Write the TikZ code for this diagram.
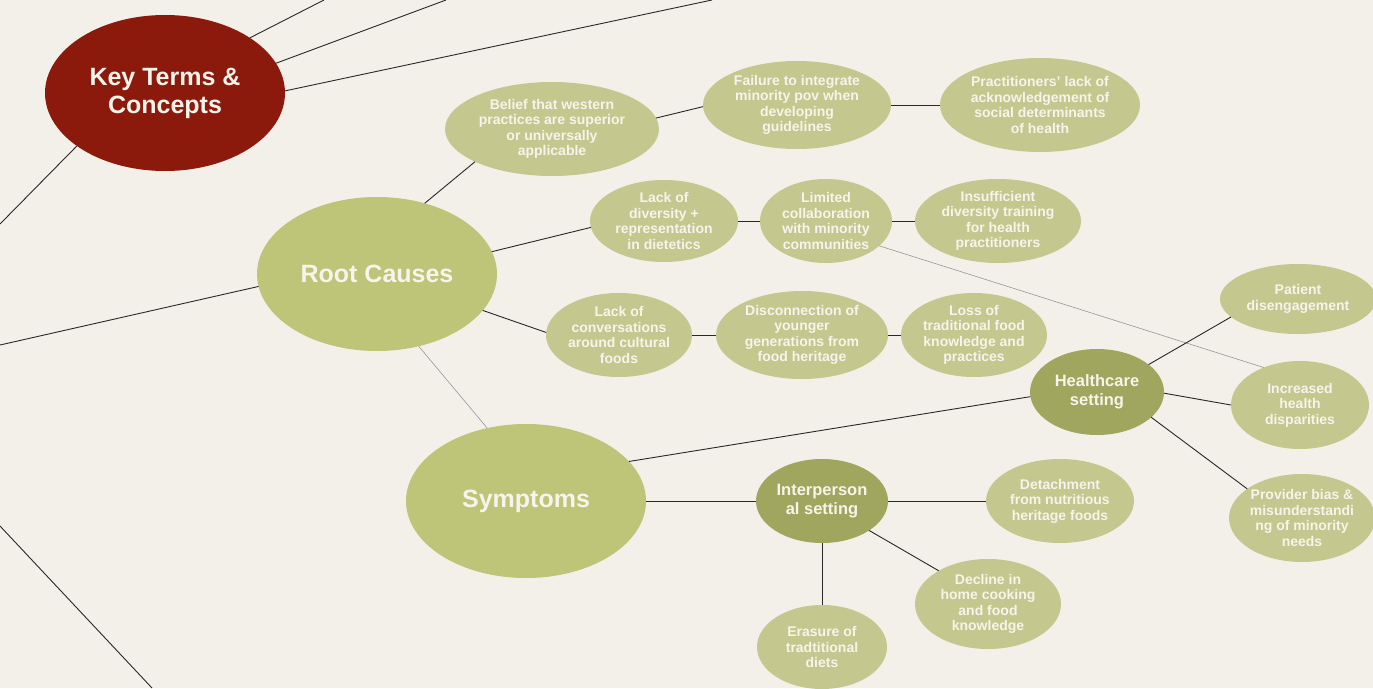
\documentclass[tikz,border=0pt]{standalone}
\usepackage{fontspec}
\setmainfont{Liberation Sans}
\usetikzlibrary{shapes.geometric}
\definecolor{paper}{RGB}{243,240,233}
\definecolor{ktred}{RGB}{140,26,12}
\definecolor{bigolive}{RGB}{190,196,120}
\definecolor{smallolive}{RGB}{196,199,142}
\definecolor{darkolive}{RGB}{160,166,94}
\definecolor{txtcol}{RGB}{247,244,235}
\definecolor{linecol}{RGB}{40,40,40}
\definecolor{thincol}{RGB}{150,150,150}
\tikzset{
  bub/.style 2 args={ellipse, minimum width=#1, minimum height=#2, inner xsep=-40pt, inner ysep=-20pt, outer sep=0pt, align=center, text=txtcol, font=\bfseries\fontsize{14}{15.5}\selectfont},
  small/.style={fill=smallolive},
  big/.style={fill=bigolive, font=\bfseries\fontsize{25}{28}\selectfont},
  mid/.style={fill=darkolive, font=\bfseries\fontsize{16.5}{19.5}\selectfont},
  conn/.style={draw=linecol, line width=0.9pt},
  thin/.style={draw=thincol, line width=0.6pt}
}
\begin{document}
\begin{tikzpicture}[x=1pt,y=-1pt]
\useasboundingbox (0,0) rectangle (1373,688);
\fill[paper] (0,0) rectangle (1373,688);
% main nodes
\node[bub={240pt}{156pt}, fill=ktred, font=\bfseries\fontsize{25}{28}\selectfont] (kt) at (165,93) {Key Terms \&\\Concepts};
\node[bub={240pt}{154pt}, big] (root) at (377,274) {Root Causes};
\node[bub={240pt}{154pt}, big] (symp) at (526,501) {Symptoms};
% root causes branches
\node[bub={214pt}{94pt}, small] (belief) at (552,129) {Belief that western\\practices are superior\\or universally\\applicable};
\node[bub={188pt}{88pt}, small] (failure) at (797,105) {Failure to integrate\\minority pov when\\developing\\guidelines};
\node[bub={200pt}{94pt}, small] (pract) at (1040,105) {Practitioners' lack of\\acknowledgement of\\social determinants\\of health};
\node[bub={148pt}{82pt}, small] (lackdiv) at (664,221) {Lack of\\diversity +\\representation\\in dietetics};
\node[bub={132pt}{84pt}, small] (limited) at (826,221) {Limited\\collaboration\\with minority\\communities};
\node[bub={166pt}{84pt}, small] (insuff) at (998,221) {Insufficient\\diversity training\\for health\\practitioners};
\node[bub={146pt}{84pt}, small] (lackconv) at (619,335) {Lack of\\conversations\\around cultural\\foods};
\node[bub={172pt}{88pt}, small] (disconn) at (802,335) {Disconnection of\\younger\\generations from\\food heritage};
\node[bub={146pt}{84pt}, small] (loss) at (974,335) {Loss of\\traditional food\\knowledge and\\practices};
% symptoms branches
\node[bub={134pt}{86pt}, mid] (health) at (1097,392) {Healthcare\\setting};
\node[bub={156pt}{70pt}, small] (patient) at (1298,299) {Patient\\disengagement};
\node[bub={138pt}{88pt}, small] (incr) at (1300,405) {Increased\\health\\disparities};
\node[bub={146pt}{88pt}, small] (provider) at (1302,518) {Provider bias \&\\misunderstandi\\ng of minority\\needs};
\node[bub={132pt}{84pt}, mid] (inter) at (822,501) {Interperson\\al setting};
\node[bub={148pt}{84pt}, small] (detach) at (1060,501) {Detachment\\from nutritious\\heritage foods};
\node[bub={146pt}{90pt}, small] (decline) at (988,604) {Decline in\\home cooking\\and food\\knowledge};
\node[bub={130pt}{84pt}, small] (erasure) at (822,647) {Erasure of\\tradtitional\\diets};
% free ends
\coordinate (e1) at (324,0);
\coordinate (e2) at (446,0);
\coordinate (e3) at (712,0);
\coordinate (e4) at (0,224);
\coordinate (e5) at (0,345);
\coordinate (e6) at (0,526);
\coordinate (e7) at (152,688);
% connectors
\draw[conn] (kt.33) -- (e1);
\draw[conn] (kt.15) -- (e2);
\draw[conn] (kt.1) -- (e3);
\draw[conn] (kt.211) -- (e4);
\draw[conn] (root.186) -- (e5);
\draw[conn] (e6) -- (e7);
\draw[conn] (root.56) -- (belief.-157);
\draw[conn] (root.11) -- (lackdiv.185);
\draw[conn] (root.-19) -- (lackconv.178);
\draw[thin] (root.-60) -- (symp.118);
\draw[conn] (belief.6) -- (failure.181);
\draw[conn] (failure.0) -- (pract.180);
\draw[conn] (lackdiv.0) -- (limited.180);
\draw[conn] (limited.0) -- (insuff.180);
\draw[thin] (limited.-25) -- (incr.134);
\draw[conn] (lackconv.0) -- (disconn.180);
\draw[conn] (disconn.0) -- (loss.180);
\draw[conn] (symp.21) -- (health.184);
\draw[conn] (health.28) -- (patient.195);
\draw[conn] (health.-1) -- (incr.180);
\draw[conn] (health.-25) -- (provider.152);
\draw[conn] (symp.0) -- (inter.180);
\draw[conn] (inter.0) -- (detach.180);
\draw[conn] (inter.-32) -- (decline.146);
\draw[conn] (inter.-90) -- (erasure.90);
\end{tikzpicture}
\end{document}
